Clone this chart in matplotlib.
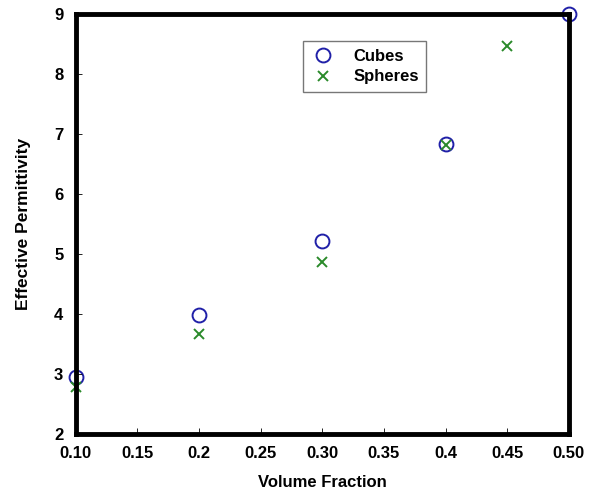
import matplotlib
matplotlib.use('Agg')
from matplotlib import pyplot as plt

plt.rcParams['font.family'] = ['Liberation Sans', 'DejaVu Sans']
plt.rcParams['font.weight'] = 'bold'

# data
cube_vf = [0.10, 0.20, 0.30, 0.40, 0.50]
cube_eps = [2.95, 3.98, 5.22, 6.83, 9.0]
sphere_vf = [0.10, 0.20, 0.30, 0.40, 0.45]
sphere_eps = [2.78, 3.66, 4.87, 6.81, 8.47]
xticks = [0.10, 0.15, 0.2, 0.25, 0.30, 0.35, 0.4, 0.45, 0.50]
xticklabels = ['0.10', '0.15', '0.2', '0.25', '0.30', '0.35', '0.4', '0.45', '0.50']
yticks = [2, 3, 4, 5, 6, 7, 8, 9]

fig = plt.figure(figsize=(6.07, 4.93), dpi=100)
ax = fig.add_axes([0.125, 0.12, 0.812, 0.852])

ax.plot(cube_vf, cube_eps, 'o', mfc='none', mec='#2020a8', mew=1.4, ms=10,
        label='Cubes', clip_on=False, zorder=1)
ax.plot(sphere_vf, sphere_eps, 'x', color='#2a8a2a', mew=1.4, ms=7,
        label='Spheres', clip_on=False, zorder=1)

ax.set_xlim(0.10, 0.50)
ax.set_ylim(2, 9)
ax.set_xticks(xticks)
ax.set_xticklabels(xticklabels)
ax.set_yticks(yticks)
ax.tick_params(direction='in', length=4, width=0.6, labelsize=12)
ax.tick_params(axis='x', pad=9)
ax.tick_params(axis='y', pad=9)
for s in ax.spines.values():
    s.set_linewidth(3.5)
    s.set_zorder(3)

ax.set_xlabel('Volume Fraction', fontsize=12, fontweight='bold', labelpad=10)
ax.set_ylabel('Effective Permittivity', fontsize=12.5, fontweight='bold', labelpad=17)

leg = ax.legend(loc='upper left', bbox_to_anchor=(0.46, 0.935), fancybox=False,
                framealpha=1, edgecolor='#777777', fontsize=12,
                handletextpad=1.0, borderpad=0.45, labelspacing=0.35,
                handlelength=1.6, borderaxespad=0)
leg.get_frame().set_linewidth(1.0)

fig.savefig('out.png', dpi=100)
